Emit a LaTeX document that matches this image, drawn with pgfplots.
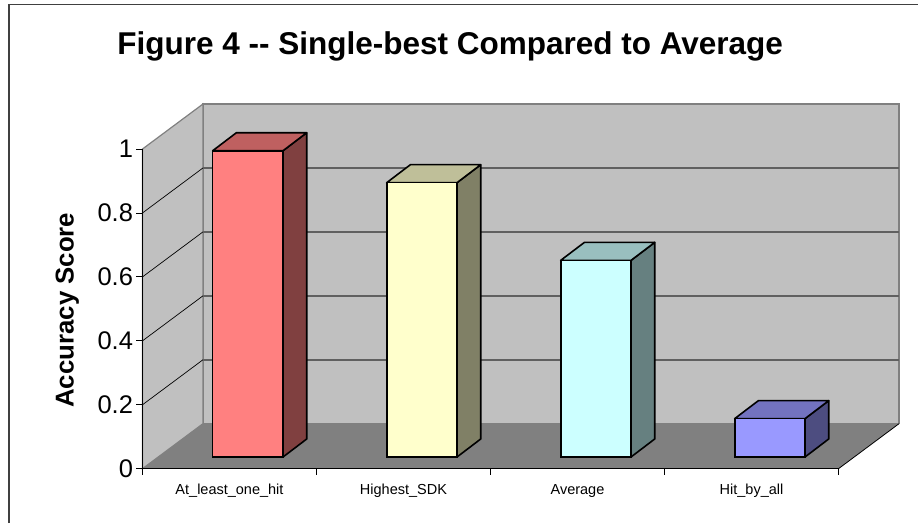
\documentclass[border=0pt]{standalone}
\usepackage{pgfplots}
\pgfplotsset{compat=1.18}
\usepackage{fontspec}
\setmainfont{Liberation Sans}

\definecolor{wall}{HTML}{C0C0C0}
\definecolor{floorc}{HTML}{808080}
\definecolor{gridc}{HTML}{606060}
\definecolor{framec}{HTML}{404040}

% depth of the chart box, in data units
\def\dx{0.3477}
\def\dy{0.1408}

% #1 category centre, #2 value, #3 front, #4 top, #5 side
\newcommand{\threedbar}[5]{%
  \pgfmathsetmacro{\xa}{#1-0.0966}
  \pgfmathsetmacro{\xb}{#1+0.3075}
  \pgfmathsetmacro{\xc}{#1+0.0396}
  \pgfmathsetmacro{\xd}{#1+0.4437}
  \pgfmathsetmacro{\ya}{0.0366}
  \pgfmathsetmacro{\yb}{#2+0.0366}
  \pgfmathsetmacro{\yc}{0.0929}
  \pgfmathsetmacro{\yd}{#2+0.0929}
  \addplot[fill=#5,draw=black,line width=1.6pt,line join=round] coordinates {(\xb,\ya) (\xd,\yc) (\xd,\yd) (\xb,\yb)} --cycle;
  \addplot[fill=#4,draw=black,line width=1.6pt,line join=round] coordinates {(\xa,\yb) (\xb,\yb) (\xd,\yd) (\xc,\yd)} --cycle;
  \addplot[ybar,bar width=70.3pt,bar shift=18.35pt,yshift=11.7pt,fill=#3,draw=black,line width=1.6pt] coordinates {(#1,#2)};
}

\begin{document}
\begin{tikzpicture}
\useasboundingbox (-142.5pt,-54.3pt) rectangle (775.5pt,468.7pt);
\begin{axis}[
  scale only axis,
  width=696pt, height=319.7pt,
  xmin=0, xmax=4, ymin=0, ymax=1,
  clip=false,
  axis on top,
  axis x line=bottom, axis y line=left,
  axis line style={-,black,line width=0.9pt},
  tick align=outside,
  xtick={0.5,1.5,2.5,3.5},
  xticklabels={At\_least\_one\_hit,Highest\_SDK,Average,Hit\_by\_all},
  minor xtick={0,1,2,3,4},
  major x tick style={draw=none},
  minor tick length=6pt,
  x tick label style={font=\fontsize{14.5}{16}\selectfont,yshift=-6pt},
  ytick={0,0.2,0.4,0.6,0.8,1},
  yticklabels={0,0.2,0.4,0.6,0.8,1},
  major tick length=6pt,
  ytick style={black,line width=0.8pt},
  xtick style={black,line width=0.8pt},
  y tick label style={font=\fontsize{25.5}{28}\selectfont},
  ylabel={\bfseries Accuracy Score},
  ylabel style={font=\fontsize{25.8}{28}\selectfont,at={(axis description cs:-0.108,0.496)},anchor=center},
  title={\bfseries Figure 4 {-}{-} Single-best Compared to Average},
  title style={font=\fontsize{31.5}{36}\selectfont,at={(axis description cs:0.442,1.303)},anchor=center},
]
% walls and floor
\addplot[fill=wall,draw=floorc,line width=1.5pt] coordinates {(\dx,\dy) (4+\dx,\dy) (4+\dx,1+\dy) (\dx,1+\dy)} --cycle;
\addplot[fill=wall,draw=floorc,line width=1.2pt] coordinates {(0,0) (\dx,\dy) (\dx,1+\dy) (0,1)} --cycle;
\addplot[fill=floorc,draw=none] coordinates {(0,0) (4,0) (4+\dx,\dy) (\dx,\dy)} --cycle;
\addplot[black,line width=0.8pt] coordinates {(4,0) (4+\dx,\dy)};
% gridlines, side wall then back wall
\addplot[black,line width=0.7pt] coordinates {(0,0.2) (\dx,0.2+\dy)};
\addplot[black,line width=0.7pt] coordinates {(0,0.4) (\dx,0.4+\dy)};
\addplot[black,line width=0.7pt] coordinates {(0,0.6) (\dx,0.6+\dy)};
\addplot[black,line width=0.7pt] coordinates {(0,0.8) (\dx,0.8+\dy)};
\addplot[gridc,line width=1.5pt] coordinates {(\dx,0.2+\dy) (4+\dx,0.2+\dy)};
\addplot[gridc,line width=1.5pt] coordinates {(\dx,0.4+\dy) (4+\dx,0.4+\dy)};
\addplot[gridc,line width=1.5pt] coordinates {(\dx,0.6+\dy) (4+\dx,0.6+\dy)};
\addplot[gridc,line width=1.5pt] coordinates {(\dx,0.8+\dy) (4+\dx,0.8+\dy)};
% bars
\definecolor{fa}{HTML}{FF8080}\definecolor{ta}{HTML}{BF6060}\definecolor{sa}{HTML}{804040}
\definecolor{fb}{HTML}{FFFFCC}\definecolor{tb}{HTML}{BFBF99}\definecolor{sb}{HTML}{808066}
\definecolor{fc}{HTML}{CCFFFF}\definecolor{tc}{HTML}{99BFBF}\definecolor{sc}{HTML}{668080}
\definecolor{fd}{HTML}{9999FF}\definecolor{td}{HTML}{7373BF}\definecolor{sd}{HTML}{4D4D80}
\threedbar{0.5}{0.958}{fa}{ta}{sa}
\threedbar{1.5}{0.858}{fb}{tb}{sb}
\threedbar{2.5}{0.615}{fc}{tc}{sc}
\threedbar{3.5}{0.120}{fd}{td}{sd}
\end{axis}
% chart area frame, only top and left show
\draw[framec,line width=1.2pt] (-133.5pt,-54.3pt) -- (-133.5pt,464.2pt) -- (775.5pt,464.2pt);
\end{tikzpicture}
\end{document}
